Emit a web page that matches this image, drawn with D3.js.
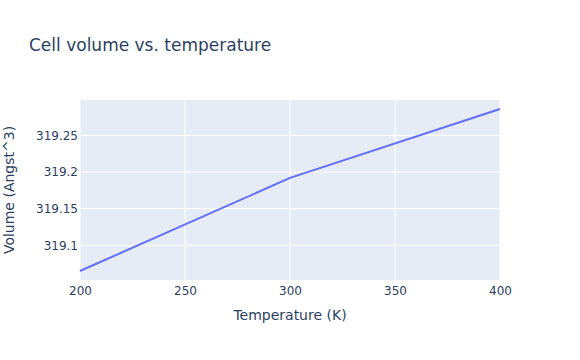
<!DOCTYPE html>
<html>
<head>
<meta charset="utf-8">
<script src="https://cdn.jsdelivr.net/npm/d3@7"></script>
<style>
body { margin: 0; background: #fff; }
svg { display: block; font-family: "DejaVu Sans", sans-serif; }
</style>
</head>
<body>
<svg id="chart" width="580" height="360"></svg>
<script>
const temperatures = [200, 300, 400];
const volumes = [319.065, 319.192, 319.286];
const xTicks = [200, 250, 300, 350, 400];
const yTicks = [319.1, 319.15, 319.2, 319.25];
const yTickLabels = ["319.1", "319.15", "319.2", "319.25"];
const title = "Cell volume vs. temperature";
const xTitle = "Temperature (K)";
const yTitle = "Volume (Angst^3)";

const W = 580, H = 360;
const m = { l: 80, r: 80, t: 100, b: 80 };
const pw = W - m.l - m.r, ph = H - m.t - m.b;
const svg = d3.select("#chart");
const textColor = "#2a3f5f";
const font = "'DejaVu Sans', sans-serif";

const [ymin, ymax] = d3.extent(volumes);
const pad = (ymax - ymin) / 18;
const x = d3.scaleLinear().domain(d3.extent(temperatures)).range([m.l, m.l + pw]);
const y = d3.scaleLinear().domain([ymin - pad, ymax + pad]).range([m.t + ph, m.t]);

svg.append("rect").attr("x", m.l).attr("y", m.t).attr("width", pw).attr("height", ph).attr("fill", "#E5ECF6");

svg.append("g").selectAll("line").data(xTicks).join("line")
  .attr("x1", d => x(d)).attr("x2", d => x(d)).attr("y1", m.t).attr("y2", m.t + ph)
  .attr("stroke", "#fff").attr("stroke-width", 1);
svg.append("g").selectAll("line").data(yTicks).join("line")
  .attr("x1", m.l).attr("x2", m.l + pw).attr("y1", d => y(d)).attr("y2", d => y(d))
  .attr("stroke", "#fff").attr("stroke-width", 1);

const gx = svg.append("g").attr("transform", `translate(0,${m.t + ph})`)
  .call(d3.axisBottom(x).tickValues(xTicks).tickSize(0).tickPadding(6).tickFormat(d3.format("d")));
gx.select(".domain").remove();
gx.selectAll("text").attr("fill", textColor).style("font-size", "12px").style("font-family", font);

const gy = svg.append("g").attr("transform", `translate(${m.l},0)`)
  .call(d3.axisLeft(y).tickValues(yTicks).tickSize(0).tickPadding(2).tickFormat((d, i) => yTickLabels[i]));
gy.select(".domain").remove();
gy.selectAll("text").attr("fill", textColor).style("font-size", "12px").style("font-family", font);

const line = d3.line().x((d, i) => x(temperatures[i])).y(d => y(d));
svg.append("path").datum(volumes).attr("d", line)
  .attr("fill", "none").attr("stroke", "#636efa").attr("stroke-width", 2).attr("stroke-linejoin", "round");

svg.append("text").attr("x", 29).attr("y", 51).attr("fill", textColor)
  .style("font-size", "17px").text(title);
svg.append("text").attr("x", m.l + pw / 2).attr("y", 320).attr("text-anchor", "middle")
  .attr("fill", textColor).style("font-size", "14px").text(xTitle);
svg.append("text").attr("transform", `translate(14,${m.t + ph / 2}) rotate(-90)`).attr("text-anchor", "middle")
  .attr("fill", textColor).style("font-size", "14px").text(yTitle);
</script>
</body>
</html>
